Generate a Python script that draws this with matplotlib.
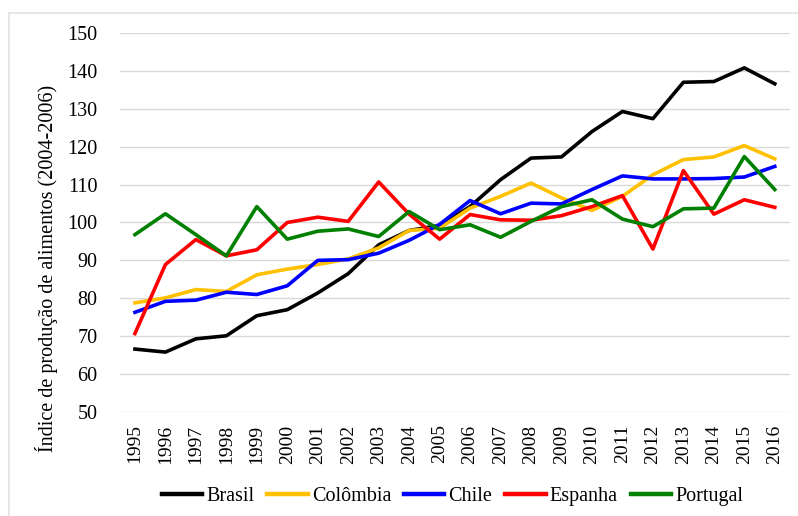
import matplotlib.pyplot as plt
from matplotlib.lines import Line2D

plt.rcParams['font.family'] = ['Liberation Serif', 'DejaVu Serif']

anos = [str(a) for a in range(1995, 2017)]
brasil = [66.6, 65.8, 69.3, 70.1, 75.4, 77.0, 81.4, 86.5, 94.1, 97.9, 99.2,
          104.2, 111.3, 117.0, 117.3, 124.0, 129.3, 127.4, 137.0, 137.2, 140.8, 136.6]
colombia = [78.8, 80.1, 82.3, 81.8, 86.2, 87.7, 88.9, 90.4, 93.3, 97.9, 98.5,
            103.8, 106.9, 110.4, 106.5, 103.2, 106.9, 112.6, 116.6, 117.3, 120.3, 116.8]
chile = [76.3, 79.2, 79.5, 81.6, 81.0, 83.3, 90.0, 90.2, 91.9, 95.3, 99.5,
         105.8, 102.3, 105.1, 104.9, 108.7, 112.3, 111.5, 111.5, 111.6, 112.0, 114.8]
espanha = [70.7, 88.9, 95.5, 91.2, 92.8, 100.0, 101.4, 100.3, 110.7, 102.2, 95.6,
           102.1, 100.7, 100.6, 101.8, 104.2, 107.1, 93.0, 113.7, 102.2, 106.0, 104.0]
portugal = [96.8, 102.3, 96.8, 91.2, 104.2, 95.6, 97.7, 98.3, 96.3, 102.9, 98.1,
            99.4, 96.1, 100.3, 104.2, 106.0, 100.9, 98.9, 103.6, 103.8, 117.4, 108.7]

series = [("Brasil", brasil, "#000000"),
          ("Colômbia", colombia, "#FFC000"),
          ("Chile", chile, "#0000FF"),
          ("Espanha", espanha, "#FF0000"),
          ("Portugal", portugal, "#008000")]

fig = plt.figure(figsize=(7.98, 5.16), dpi=100)
ax = fig.add_axes([0.150, 0.2016, 0.840, 0.7344])

# faint chart-area frame (top and left edges visible)
frame_col = '#E3E3E3'
fig.add_artist(Line2D([8.5 / 798, 1.0], [1 - 12.5 / 516] * 2, transform=fig.transFigure,
                      color=frame_col, linewidth=1.2))
fig.add_artist(Line2D([8.5 / 798] * 2, [0.0, 1 - 12.5 / 516], transform=fig.transFigure,
                      color=frame_col, linewidth=1.2))

x = range(len(anos))
for nome, vals, cor in series:
    ax.plot(x, vals, color=cor, linewidth=2.6, label=nome)

ax.set_xlim(-0.5, len(anos) - 0.5)
ax.set_ylim(50, 150)
ax.set_yticks(range(50, 151, 10))
ax.set_xticks(list(x))
ax.set_xticklabels(anos, rotation=90, fontsize=14)
ax.tick_params(axis='y', labelsize=14.5, length=0, pad=16)
ax.tick_params(axis='x', length=0, pad=9)
ax.grid(axis='y', color='#D9D9D9', linewidth=1)
ax.set_axisbelow(True)
for s in ax.spines.values():
    s.set_visible(False)

ax.set_ylabel("Índice de produção de alimentos (2004-2006)", fontsize=14.5)
ax.yaxis.set_label_coords(-0.092, 0.38)

fig.legend(loc='center', bbox_to_anchor=(0.567, 0.037), ncol=5, frameon=False,
           fontsize=14.5, handlelength=2.0, handletextpad=0.2, columnspacing=0.65)
for ln in fig.legends[0].get_lines():
    ln.set_linewidth(3.2)

plt.savefig("out.png", dpi=100)
